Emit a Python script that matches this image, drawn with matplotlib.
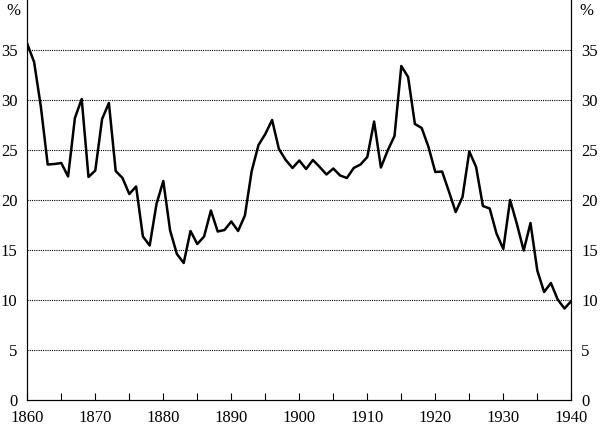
import matplotlib.pyplot as plt
import numpy as np

years = np.arange(1860, 1941)
share = [35.6, 33.8, 29.3, 23.55, 23.6, 23.7, 22.35, 28.2, 30.1, 22.3,
         22.95, 28.1, 29.7, 22.9, 22.2, 20.6, 21.35, 16.35, 15.45, 19.6,
         21.9, 16.95, 14.6, 13.7, 16.9, 15.6, 16.35, 18.95, 16.85, 17.0,
         17.85, 16.9, 18.45, 22.9, 25.5, 26.6, 28.0, 25.1, 24.0, 23.2,
         23.95, 23.1, 24.0, 23.3, 22.55, 23.15, 22.45, 22.2, 23.2, 23.55,
         24.3, 27.85, 23.25, 24.95, 26.4, 33.4, 32.3, 27.6, 27.2, 25.3,
         22.8, 22.85, 20.85, 18.8, 20.3, 24.85, 23.3, 19.4, 19.15, 16.65,
         15.1, 20.0, 17.6, 14.95, 17.7, 12.95, 10.8, 11.7, 10.05, 9.15,
         9.9]
yticks = [0, 5, 10, 15, 20, 25, 30, 35]
xlabels = [1860, 1870, 1880, 1890, 1900, 1910, 1920, 1930, 1940]

plt.rcParams['font.family'] = 'Liberation Serif'
plt.rcParams['font.size'] = 12

fig = plt.figure(figsize=(6, 4.25), dpi=100)
ax = fig.add_axes([27.3/600, 25/425, (571.3-27.3)/600, 400/425])

for v in yticks[1:]:
    ax.axhline(v, color='black', linestyle=(0, (1, 1)), linewidth=0.8, zorder=1)
ax.plot(years, share, color='black', linewidth=1.8, zorder=3)

ax.set_xlim(1860, 1940)
ax.set_ylim(0, 40)
ax.set_xticks(np.arange(1860, 1941, 5), minor=True)
ax.set_xticks(xlabels)
ax.set_xticklabels([str(x) for x in xlabels])
ax.tick_params(axis='x', which='both', direction='in', length=5, width=0.8, pad=7.5)
ax.set_yticks(yticks)
ax.tick_params(axis='y', length=0, pad=7)
ax.spines['top'].set_visible(False)

ax2 = ax.twinx()
ax2.set_ylim(0, 40)
ax2.set_yticks(yticks)
ax2.tick_params(axis='y', length=0, pad=7)
ax2.spines['top'].set_visible(False)

fig.text(13.5/600, 1 - 11/425, '%', ha='center', va='center')
fig.text(586/600, 1 - 11/425, '%', ha='center', va='center')

fig.savefig('out.png', dpi=100)
